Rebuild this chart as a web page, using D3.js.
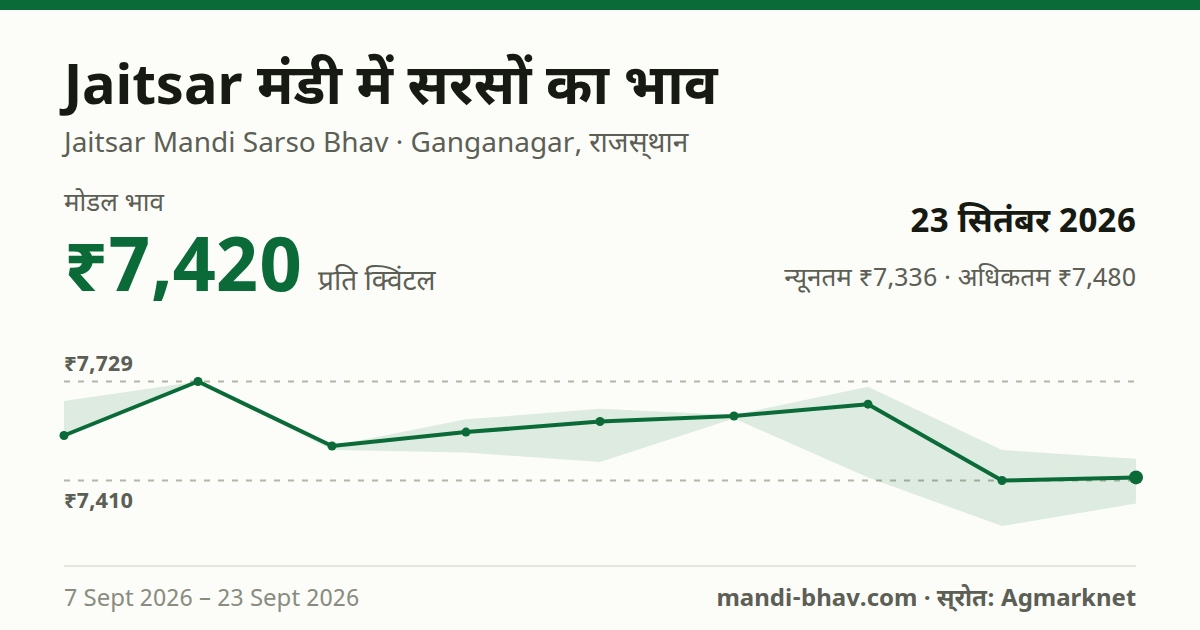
<!DOCTYPE html>
<html lang="hi"><head><meta charset="utf-8">
<script src="https://cdn.jsdelivr.net/npm/d3@7"></script>
<style>html,body{margin:0;padding:0;background:#fcfdf9}svg{display:block}text{font-family:"Noto Sans Devanagari","Noto Sans",sans-serif}</style>
</head><body><div id="c"></div>
<script>
const days=[7,9,11,13,15,17,19,21,23];
const modal=[7555,7729,7521,7566,7600,7618,7656,7410,7420];
const maxP=[7666,7729,7521,7607,7641,7621,7712,7508,7480];
const minP=[7555,7729,7508,7500,7470,7610,7420,7263,7336];
const refLines=[7729,7410];
const refLabels=["₹7,729","₹7,410"];
const W=1200,H=630,green="#0a6b38",ink="#171a12",mid="#5c5f55",light="#8a8c80";
const svg=d3.select("#c").append("svg").attr("width",W).attr("height",H);
svg.append("rect").attr("width",W).attr("height",H).attr("fill","#fcfdf9");
svg.append("rect").attr("width",W).attr("height",10).attr("fill",green);
const x=d3.scaleLinear().domain([7,23]).range([64,1136]);
const y=d3.scaleLinear().domain([7410,7729]).range([480.5,381.5]);
function t(s,xp,yp,size,weight,fill,anchor){return svg.append("text").text(s).attr("x",xp).attr("y",yp).attr("font-size",size).attr("font-weight",weight).attr("fill",fill).attr("text-anchor",anchor||"start");}
t("Jaitsar मंडी में सरसों का भाव",64,104,56,700,ink);
t("Jaitsar Mandi Sarso Bhav · Ganganagar, राजस्\u200Cथान",64,152,28,400,mid);
t("मोडल भाव",64,211,26,400,mid);
t("₹7,420",64,291,76,700,green);
t("प्रति क्विंटल",318,290,28,400,mid);
t("23 सितंबर 2026",1136,232,34,700,ink,"end");
t("न्यूनतम ₹7,336 · अधिकतम ₹7,480",1136,286,26,400,mid,"end");
const area=d3.area().x((d,i)=>x(days[i])).y0((d,i)=>y(minP[i])).y1((d,i)=>y(maxP[i]));
svg.selectAll("line.g").data(refLines).join("line").attr("class","g").attr("x1",64).attr("x2",1136)
 .attr("y1",d=>y(d)).attr("y2",d=>y(d)).attr("stroke","#b5b5a8").attr("stroke-width",2).attr("stroke-dasharray","6 8");
svg.append("path").attr("d",area(days)).attr("fill",green).attr("fill-opacity",0.12);
t(refLabels[0],64,371,22,700,mid);
t(refLabels[1],64,508,22,700,mid);
const line=d3.line().x((d,i)=>x(days[i])).y(d=>y(d));
svg.append("path").attr("d",line(modal)).attr("fill","none").attr("stroke",green).attr("stroke-width",4).attr("stroke-linejoin","round");
svg.selectAll("circle").data(modal).join("circle").attr("cx",(d,i)=>x(days[i])).attr("cy",d=>y(d)).attr("r",(d,i)=>i==modal.length-1?7:4.5).attr("fill",green);
svg.append("rect").attr("x",64).attr("y",565).attr("width",1072).attr("height",2).attr("fill","#e5e7df");
t("7 Sept 2026 – 23 Sept 2026",64,606,24,400,light);
t("mandi-bhav.com · स्\u200Cरोत: Agmarknet",1136,606,24,700,mid,"end");
</script></body></html>
